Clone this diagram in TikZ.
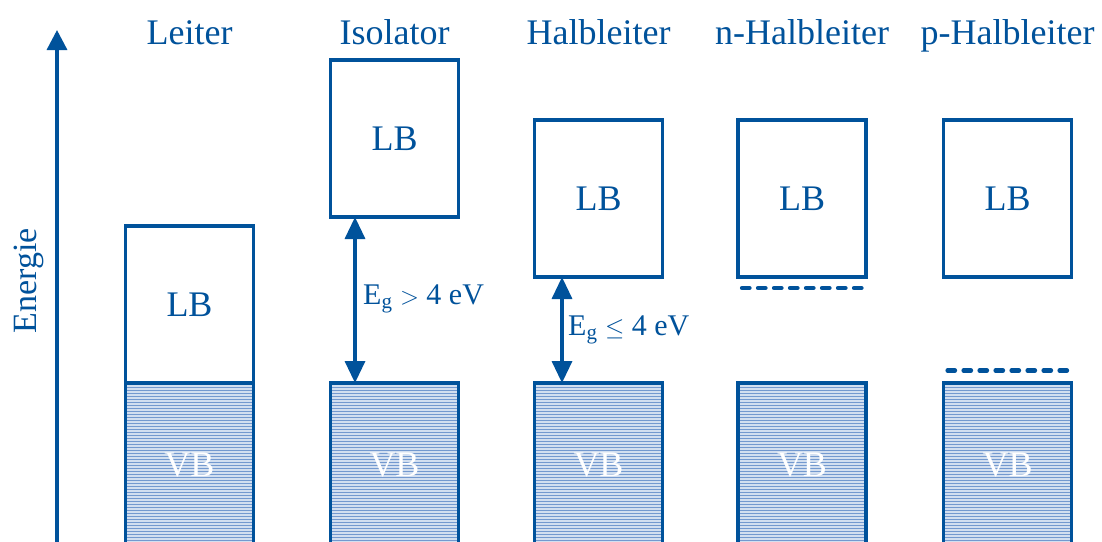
\documentclass[tikz,border=0pt]{standalone}
\usepackage{fontspec}
\setmainfont{Liberation Serif}
\usetikzlibrary{arrows.meta}
\definecolor{bandblue}{RGB}{0,82,155}
\definecolor{stripeblue}{RGB}{115,153,207}
\definecolor{stripelight}{RGB}{210,223,240}
\begin{document}
\begin{tikzpicture}[x=1pt,y=-1pt,
  title/.style={text=bandblue, font=\fontsize{36}{40}\selectfont, anchor=base},
  lbbox/.style={draw=bandblue, line width=3.4, fill=white, minimum width=128, minimum height=157,
    inner sep=0pt, outer sep=0pt, text=bandblue, font=\fontsize{36}{40}\selectfont},
  vbbox/.style={draw=bandblue, line width=3.4, fill=stripelight, minimum width=128, minimum height=164,
    inner sep=0pt, outer sep=0pt, text=white, font=\fontsize{36}{40}\selectfont,
    path picture={
      \foreach \k in {0,...,60}
        \draw[stripeblue, line width=1.5]
          ([yshift=-\k*3pt-1.5pt]path picture bounding box.north west) --
          ([yshift=-\k*3pt-1.5pt]path picture bounding box.north east);
    }},
  gaplabel/.style={text=bandblue, font=\fontsize{30}{34}\selectfont, anchor=west, inner sep=0pt},
  gaparrow/.style={draw=bandblue, line width=3.4, {Triangle[width=20pt,length=22pt]}-{Triangle[width=20pt,length=22pt]}},
  level/.style={draw=bandblue, line width=4.2, line cap=round, dash pattern=on 7.5pt off 8.5pt}
]
\useasboundingbox (0,0) rectangle (1102,541);
\clip (0,0) rectangle (1102,541);
\fill[white] (0,0) rectangle (1102,541);

% energy axis
\coordinate (axbot) at (57,545);
\coordinate (axtop) at (57,30);
\draw[bandblue, line width=3.4, -{Triangle[width=20pt,length=20pt]}] (axbot) -- (axtop);
\node[text=bandblue, font=\fontsize{34}{38}\selectfont, rotate=90] (energie) at (29,281) {Energie};

% column titles
\node[title] (tLeiter) at (189.5,44) {Leiter};
\node[title] (tIso) at (394.5,44) {Isolator};
\node[title] (tHalb) at (598.5,44) {Halbleiter};
\node[title] (tN) at (802,44) {n-Halbleiter};
\node[title] (tP) at (1007.5,44) {p-Halbleiter};

% Leiter: overlapping bands
\node[lbbox] (leiterLB) at (189.5,304.5) {LB};
\node[vbbox] (leiterVB) at (189.5,465) {VB};

% Isolator
\node[lbbox] (isoLB) at (394.5,138.5) {LB};
\node[vbbox] (isoVB) at (394.5,465) {VB};
\coordinate (isoX) at (355,0);
\draw[gaparrow] (isoX |- isoLB.south) -- (isoX |- isoVB.north);
\node[gaplabel] (isoGap) at (363,299) {E\textsubscript{g} $>$ 4 eV};

% Halbleiter
\node[lbbox] (halbLB) at (598.5,198.5) {LB};
\node[vbbox] (halbVB) at (598.5,465) {VB};
\coordinate (halbX) at (562,0);
\draw[gaparrow] (halbX |- halbLB.south) -- (halbX |- halbVB.north);
\node[gaplabel] (halbGap) at (568,330) {E\textsubscript{g} $\leq$ 4 eV};

% n-Halbleiter: donor level below the conduction band
\node[lbbox] (nLB) at (802,198.5) {LB};
\node[vbbox] (nVB) at (802,465) {VB};
\coordinate (nDon) at (802,288);
\draw[level] ([xshift=-60pt]nDon) -- ([xshift=62pt]nDon);

% p-Halbleiter: acceptor level above the valence band
\node[lbbox] (pLB) at (1007.5,198.5) {LB};
\node[vbbox] (pVB) at (1007.5,465) {VB};
\coordinate (pAcc) at (1007.5,370.5);
\draw[level] ([xshift=-60pt]pAcc) -- ([xshift=62pt]pAcc);
\end{tikzpicture}
\end{document}
